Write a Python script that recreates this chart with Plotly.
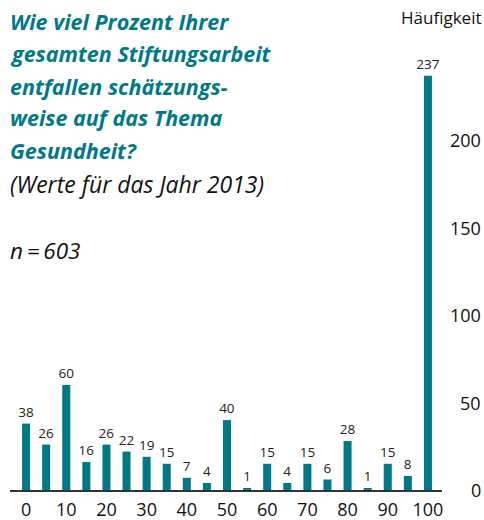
import plotly.graph_objects as go

categories = [0, 5, 10, 15, 20, 25, 30, 35, 40, 45, 50, 55, 60, 65, 70, 75, 80, 85, 90, 95, 100]
values = [38, 26, 60, 16, 26, 22, 19, 15, 7, 4, 40, 1, 15, 4, 15, 6, 28, 1, 15, 8, 237]
x_ticks = [0, 10, 20, 30, 40, 50, 60, 70, 80, 90, 100]
y_ticks = [0, 50, 100, 150, 200]
title_lines = ["Wie viel Prozent Ihrer", "gesamten Stiftungsarbeit", "entfallen schätzungs-",
               "weise auf das Thema", "Gesundheit?"]
subtitle = "(Werte für das Jahr 2013)"
n_text = "n\u2009=\u2009603"
y_title = "Häufigkeit"

TEAL = "#007987"
FONT = "Open Sans"
W, H = 484, 520
L, R, T, B = 10, 42, 53, 30
ph = H - T - B

def py2paper(py):
    return (H - B - py) / ph

def px2paper(px):
    return (px - L) / (W - L - R)

fig = go.Figure(go.Bar(
    x=categories, y=values, width=2.0,
    marker=dict(color=TEAL, line=dict(width=0)),
    text=[str(v) for v in values], textposition="outside",
    textfont=dict(family=FONT, size=13.5, color="#222"),
    outsidetextfont=dict(family=FONT, size=13.5, color="#222"),
    constraintext="none",
    cliponaxis=False,
))

annotations = []
line_y = [21, 53, 86, 118, 150]
for txt, py in zip(title_lines, line_y):
    annotations.append(dict(text=txt, xref="paper", yref="paper", x=px2paper(8), y=py2paper(py),
                            xanchor="left", yanchor="middle", showarrow=False,
                            font=dict(family=FONT, size=21.5, color=TEAL, weight="bold", style="italic")))
annotations.append(dict(text=subtitle, xref="paper", yref="paper", x=px2paper(8), y=py2paper(184),
                        xanchor="left", yanchor="middle", showarrow=False,
                        font=dict(family=FONT, size=23, color="#111", style="italic")))
annotations.append(dict(text=n_text, xref="paper", yref="paper", x=px2paper(8), y=py2paper(250),
                        xanchor="left", yanchor="middle", showarrow=False,
                        font=dict(family=FONT, size=22.5, color="#111", style="italic")))
annotations.append(dict(text=y_title, xref="paper", yref="paper", x=px2paper(483), y=py2paper(18),
                        xanchor="right", yanchor="middle", showarrow=False,
                        font=dict(family=FONT, size=17, color="#111")))
for v in y_ticks:
    annotations.append(dict(text=str(v), xref="paper", yref="y", x=px2paper(483), y=v,
                            xanchor="right", yanchor="middle", showarrow=False,
                            font=dict(family=FONT, size=18, color="#111")))

fig.update_layout(
    width=W, height=H, margin=dict(l=L, r=R, t=T, b=B, autoexpand=False),
    paper_bgcolor="white", plot_bgcolor="white", showlegend=False,
    annotations=annotations,
    xaxis=dict(range=[-4, 103.5], tickvals=x_ticks, ticks="", showgrid=False, zeroline=False,
               showline=True, linecolor="#333", linewidth=2, ticklabelstandoff=2,
               automargin=False,
               tickfont=dict(family=FONT, size=18, color="#111"), fixedrange=True),
    yaxis=dict(range=[0, 250], tickvals=y_ticks, showticklabels=False, showgrid=True,
               gridcolor="white", gridwidth=1.5, zeroline=False, layer="above traces",
               automargin=False, fixedrange=True),
)
fig.write_html("out.html", config={"displayModeBar": False})

with open("out.html", "r", encoding="utf-8") as f:
    html = f.read()
html = html.replace("<head>", "<head><style>html,body{margin:0;padding:0;overflow:hidden;}</style>", 1)
with open("out.html", "w", encoding="utf-8") as f:
    f.write(html)
